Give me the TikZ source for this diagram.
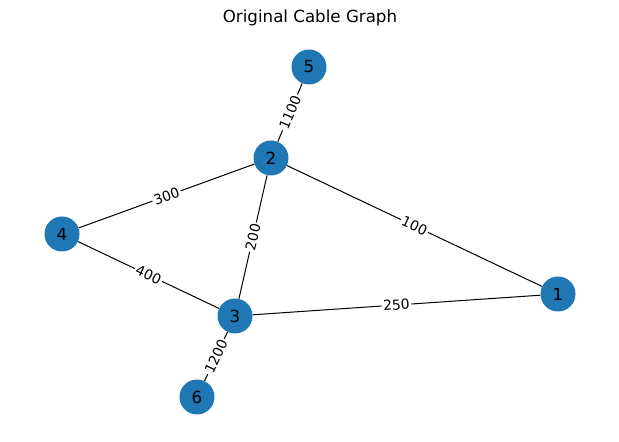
\documentclass[tikz,border=0pt]{standalone}
\usepackage{fontspec}
\setmainfont{DejaVu Sans}
\definecolor{nxblue}{HTML}{1F77B4}
\begin{document}
\begin{tikzpicture}[x=0.72pt,y=-0.72pt,
  vtx/.style={circle,fill=nxblue,minimum size=35*0.72pt,inner sep=0pt,font=\fontsize{12}{14}\selectfont},
  edge/.style={draw=black,line width=0.72pt},
  elab/.style={sloped,fill=white,inner sep=1.2pt,font=\fontsize{10}{12}\selectfont}]
\useasboundingbox (0,0) rectangle (619,442);
\node[font=\fontsize{12}{14}\selectfont] (title) at (310,18) {Original Cable Graph};
\node[vtx] (n5) at (309,67) {5};
\node[vtx] (n2) at (271,158) {2};
\node[vtx] (n4) at (62,234) {4};
\node[vtx] (n1) at (558,294) {1};
\node[vtx] (n3) at (235,316) {3};
\node[vtx] (n6) at (197,397) {6};
\begin{scope}[on background layer/.style={}]
\end{scope}
\path[edge] (n2) -- (n5);
\path[edge] (n2) -- (n4);
\path[edge] (n2) -- (n3);
\path[edge] (n2) -- (n1);
\path[edge] (n4) -- (n3);
\path[edge] (n3) -- (n1);
\path[edge] (n3) -- (n6);
\path (n2) -- node[elab] {1100} (n5);
\path (n4) -- node[elab] {300} (n2);
\path (n3) -- node[elab] {200} (n2);
\path (n2) -- node[elab] {100} (n1);
\path (n4) -- node[elab] {400} (n3);
\path (n3) -- node[elab] {250} (n1);
\path (n6) -- node[elab] {1200} (n3);
\end{tikzpicture}
\end{document}
